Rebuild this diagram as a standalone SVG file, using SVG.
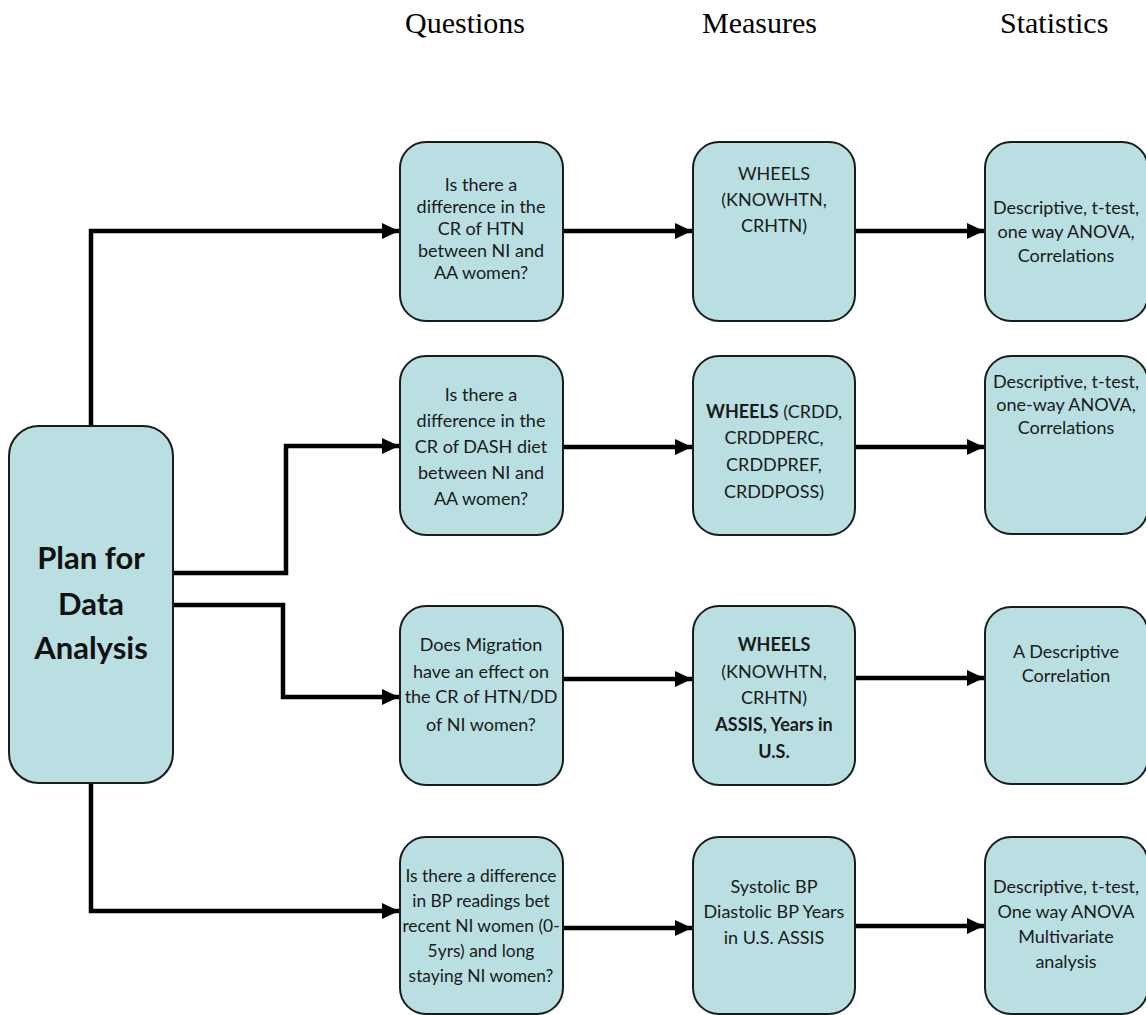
<svg xmlns="http://www.w3.org/2000/svg" width="1146" height="1015" viewBox="0 0 1146 1015">
<style>
.box{fill:#b9dfe2;stroke:#1b1b1b;stroke-width:2}
.t{font-family:Lato,"Open Sans",sans-serif;font-size:18px;fill:#1a1a1a;text-anchor:middle}
.s{font-size:17.4px}
.b{font-weight:bold}
.main{font-family:Lato,"Open Sans",sans-serif;font-size:31px;font-weight:bold;fill:#111;text-anchor:middle}
.hdr{font-family:"Liberation Serif","Times New Roman",serif;font-size:30px;fill:#000}
.c{fill:none;stroke:#000;stroke-width:4.5;stroke-linejoin:miter}
</style>
<defs>
<marker id="ah" markerUnits="userSpaceOnUse" markerWidth="18" markerHeight="18" viewBox="0 0 18 18" refX="17" refY="9" orient="auto">
<path d="M0,1 L17,9 L0,17 Z" fill="#000"/>
</marker>
</defs>
<g id="headers">
<text class="hdr" x="405" y="33">Questions</text>
<text class="hdr" x="702" y="33">Measures</text>
<text class="hdr" x="1000" y="33">Statistics</text>
</g>
<g id="connectors">
<path class="c" d="M91,426 V231 H399" marker-end="url(#ah)"/>
<path class="c" d="M173,573 H286 V446 H399" marker-end="url(#ah)"/>
<path class="c" d="M173,605 H283 V697 H399" marker-end="url(#ah)"/>
<path class="c" d="M91,783 V911 H399" marker-end="url(#ah)"/>
<path class="c" d="M563,231 H692" marker-end="url(#ah)"/>
<path class="c" d="M855,231 H984" marker-end="url(#ah)"/>
<path class="c" d="M563,447 H692" marker-end="url(#ah)"/>
<path class="c" d="M855,447 H984" marker-end="url(#ah)"/>
<path class="c" d="M563,679 H692" marker-end="url(#ah)"/>
<path class="c" d="M855,678 H984" marker-end="url(#ah)"/>
<path class="c" d="M563,928 H692" marker-end="url(#ah)"/>
<path class="c" d="M855,926 H984" marker-end="url(#ah)"/>
</g>
<g id="plan">
<rect class="box" x="9" y="426" width="164" height="357" rx="30"/>
<text class="main" x="91" y="569">Plan for</text>
<text class="main" x="91" y="615">Data</text>
<text class="main" x="91" y="659">Analysis</text>
</g>
<g id="q1">
<rect class="box" x="400" y="142" width="163" height="179" rx="26"/>
<text class="t" x="481" y="191">Is there a</text>
<text class="t" x="481" y="213">difference in the</text>
<text class="t" x="481" y="235">CR of HTN</text>
<text class="t" x="481" y="257">between NI and</text>
<text class="t" x="481" y="279">AA women?</text>
</g>
<g id="m1">
<rect class="box" x="693" y="142" width="162" height="179" rx="26"/>
<text class="t" x="774" y="180">WHEELS</text>
<text class="t" x="774" y="206">(KNOWHTN,</text>
<text class="t" x="774" y="232">CRHTN)</text>
</g>
<g id="s1">
<rect class="box" x="985" y="142" width="163" height="179" rx="26"/>
<text class="t" x="1066" y="214">Descriptive, t-test,</text>
<text class="t" x="1066" y="238">one way ANOVA,</text>
<text class="t" x="1066" y="262">Correlations</text>
</g>
<g id="q2">
<rect class="box" x="400" y="356" width="163" height="179" rx="26"/>
<text class="t" x="481" y="401">Is there a</text>
<text class="t" x="481" y="427">difference in the</text>
<text class="t" x="481" y="453">CR of DASH diet</text>
<text class="t" x="481" y="479">between NI and</text>
<text class="t" x="481" y="505">AA women?</text>
</g>
<g id="m2">
<rect class="box" x="693" y="356" width="162" height="179" rx="26"/>
<text class="t" x="774" y="418"><tspan class="b">WHEELS</tspan> (CRDD,</text>
<text class="t" x="774" y="444">CRDDPERC,</text>
<text class="t" x="774" y="471">CRDDPREF,</text>
<text class="t" x="774" y="498">CRDDPOSS)</text>
</g>
<g id="s2">
<rect class="box" x="985" y="356" width="163" height="178" rx="26"/>
<text class="t" x="1066" y="388">Descriptive, t-test,</text>
<text class="t" x="1066" y="411">one-way ANOVA,</text>
<text class="t" x="1066" y="434">Correlations</text>
</g>
<g id="q3">
<rect class="box" x="400" y="606" width="163" height="179" rx="26"/>
<text class="t" x="481" y="651">Does Migration</text>
<text class="t" x="481" y="678">have an effect on</text>
<text class="t" x="481" y="703">the CR of HTN/DD</text>
<text class="t" x="481" y="731">of NI women?</text>
</g>
<g id="m3">
<rect class="box" x="693" y="606" width="162" height="179" rx="26"/>
<text class="t b" x="774" y="651">WHEELS</text>
<text class="t" x="774" y="678">(KNOWHTN,</text>
<text class="t" x="774" y="704">CRHTN)</text>
<text class="t b" x="774" y="731">ASSIS, Years in</text>
<text class="t b" x="774" y="758">U.S.</text>
</g>
<g id="s3">
<rect class="box" x="985" y="607" width="163" height="177" rx="26"/>
<text class="t" x="1066" y="658">A Descriptive</text>
<text class="t" x="1066" y="682">Correlation</text>
</g>
<g id="q4">
<rect class="box" x="400" y="837" width="163" height="177" rx="26"/>
<text class="t s" x="481" y="882">Is there a difference</text>
<text class="t s" x="481" y="907">in BP readings bet</text>
<text class="t s" x="481" y="932">recent NI women (0-</text>
<text class="t s" x="481" y="957">5yrs) and long</text>
<text class="t s" x="481" y="982">staying NI women?</text>
</g>
<g id="m4">
<rect class="box" x="693" y="837" width="162" height="177" rx="26"/>
<text class="t" x="774" y="893">Systolic BP</text>
<text class="t" x="774" y="918">Diastolic BP Years</text>
<text class="t" x="774" y="944">in U.S. ASSIS</text>
</g>
<g id="s4">
<rect class="box" x="985" y="837" width="163" height="177" rx="26"/>
<text class="t" x="1066" y="893">Descriptive, t-test,</text>
<text class="t" x="1066" y="918">One way ANOVA</text>
<text class="t" x="1066" y="943">Multivariate</text>
<text class="t" x="1066" y="968">analysis</text>
</g>
</svg>
